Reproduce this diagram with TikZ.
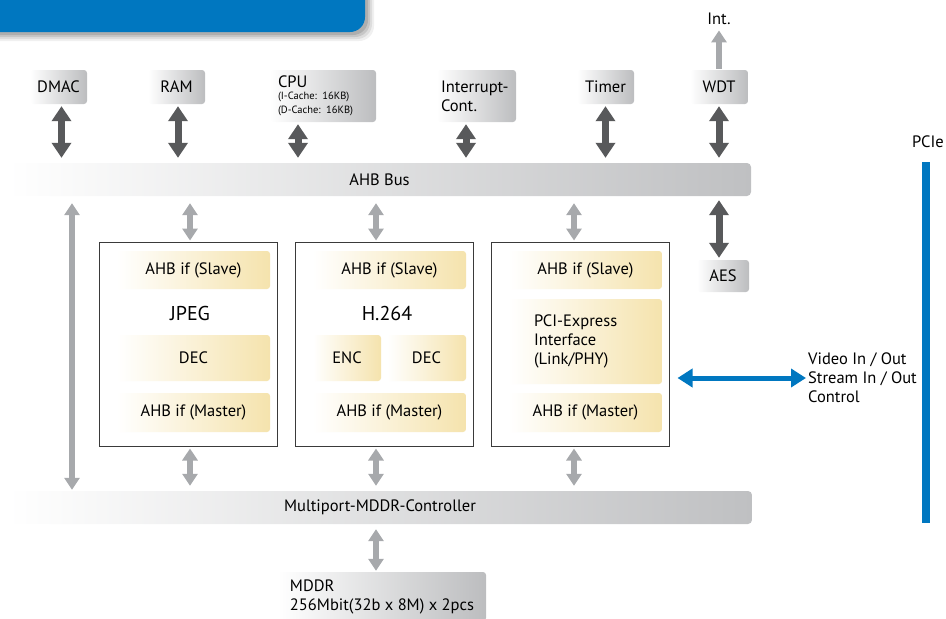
\documentclass[tikz,border=0pt]{standalone}
\usepackage{fontspec}
\setmainfont{PT Sans}
\usetikzlibrary{arrows.meta}

\definecolor{banblue}{HTML}{0077C0}
\definecolor{perigray}{HTML}{BCBDBF}
\definecolor{busgray}{HTML}{BFC0C2}
\definecolor{darkarr}{HTML}{58595B}
\definecolor{lightarr}{HTML}{A7A9AC}
\definecolor{frame}{HTML}{3A3A3A}
\definecolor{ifyellow}{HTML}{F5E3AD}

\newcommand{\fs}[1]{\fontsize{#1}{19}\selectfont}

\tikzset{
  periph/.style={left color=white,right color=perigray,rounded corners=3pt,
    inner sep=0pt,font=\fs{16.5},text=black},
  busbar/.style={left color=white,right color=busgray,rounded corners=4pt,
    inner sep=0pt,minimum height=33pt,font=\fs{16.5}},
  module/.style={draw=frame,line width=1pt,fill=white,inner sep=0pt},
  ifbox/.style={left color=white,right color=ifyellow,rounded corners=3pt,
    inner sep=0pt,font=\fs{16.5}},
  darrow/.style={draw=darkarr,line width=7pt,
    {Triangle[width=19pt,length=15pt]}-{Triangle[width=19pt,length=15pt]}},
  larrow/.style={draw=lightarr,line width=5.5pt,
    {Triangle[width=15pt,length=12pt]}-{Triangle[width=15pt,length=12pt]}},
  lsingle/.style={draw=lightarr,line width=5.5pt,-{Triangle[width=15pt,length=12pt]}},
  barrow/.style={draw=banblue,line width=5pt,
    {Triangle[width=18pt,length=15pt]}-{Triangle[width=18pt,length=15pt]}}
}

\begin{document}
\frenchspacing
\begin{tikzpicture}[x=1pt,y=-1pt]

	\useasboundingbox (0,0) rectangle (946,619);

	\begin{scope}
		\clip (0,0) rectangle (946,619);
		% banner with a soft shadow
		\foreach \s/\o in {9/.06,7/.08,5/.1,3/.12}
			\fill[black,opacity=\o,rounded corners=15pt] (-20,-20) rectangle (365+\s,32+\s);
		\fill[banblue,rounded corners=15pt] (-20,-20) rectangle (365,32);

		\node[periph,minimum width=208pt,minimum height=49pt,
		      align=left] (mddr) at (382,596.5) {MDDR\\256Mbit(32b x 8M) x 2pcs};
	\end{scope}

		% peripherals on the AHB bus
		\node[periph,minimum width=57pt,minimum height=34pt] (dmac)  at ( 58.5, 87) {DMAC};
		\node[periph,minimum width=57pt,minimum height=34pt] (ram)   at (176.5, 87) {RAM};
		\node[periph,minimum height=52pt,text width=90pt,inner xsep=8pt,align=left] (cpu) at (323, 96)
		     {CPU\\[-7pt]{\fs{10.5}(I-Cache: 16KB)}\\[-5pt]{\fs{10.5}(D-Cache: 16KB)}};
		\node[periph,minimum height=52pt,text width=71pt,inner xsep=4pt,align=left] (intc) at (476.5, 96)
		     {Interrupt-\\Cont.};
		\node[periph,minimum width=57pt,minimum height=34pt] (timer) at (605.5, 87) {Timer};
		\node[periph,minimum width=58pt,minimum height=34pt] (wdt)   at (719, 87) {WDT};
		\node[font=\fs{16.5}] (intl) at (719, 19) {Int.};
		\node[periph,minimum width=52pt,minimum height=32pt] (aes)   at (723, 276) {AES};

		\node[busbar,minimum width=743pt] (bus) at (379.5, 179.5) {AHB Bus};
		\node[busbar,minimum width=744pt] (mpc) at (380, 507.5) {Multiport-MDDR-Controller};

		% codec / interface blocks
		\node[module,minimum width=178pt,minimum height=204pt] (jpeg) at (188, 344) {};
		\node[module,minimum width=178pt,minimum height=204pt] (h264) at (384, 344) {};
		\node[module,minimum width=178pt,minimum height=204pt] (pcie) at (580, 344) {};

		\node[ifbox,minimum width=153pt,minimum height=38pt] (js) at (193.5, 270) {AHB if (Slave)};
		\node[font=\fs{20}] (jl) at (190, 313) {JPEG};
		\node[ifbox,minimum width=153pt,minimum height=46pt] (jd) at (193.5, 358) {DEC};
		\node[ifbox,minimum width=153pt,minimum height=39pt] (jm) at (193.5, 412.5) {AHB if (Master)};

		\node[ifbox,minimum width=153pt,minimum height=38pt] (hs) at (389.5, 270) {AHB if (Slave)};
		\node[font=\fs{20}] (hl) at (387, 313) {H.264};
		\node[ifbox,minimum width=68pt,minimum height=46pt] (he) at (347, 358) {ENC};
		\node[ifbox,minimum width=79pt,minimum height=46pt] (hd) at (426.5, 358) {DEC};
		\node[ifbox,minimum width=153pt,minimum height=39pt] (hm) at (389.5, 412.5) {AHB if (Master)};

		\node[ifbox,minimum width=153pt,minimum height=38pt] (ps) at (585.5, 270) {AHB if (Slave)};
		\node[ifbox,minimum height=85pt,text width=103pt,inner xsep=25pt,align=left] (pi) at (585.5, 341.5)
		     {PCI-Express\\Interface\\(Link/PHY)};
		\node[ifbox,minimum width=153pt,minimum height=39pt] (pm) at (585.5, 412.5) {AHB if (Master)};

		\node[font=\fs{16.5},align=left,anchor=west,inner sep=2pt] (vio) at (806, 378)
		     {Video In / Out\\Stream In / Out\\Control};
		\node[font=\fs{16.5}] (pcil) at (928, 142) {PCIe};
		\fill[banblue] (922,162) rectangle (930,523);

		\coordinate (lft) at (72, 0);

		\draw[darrow,shorten <=2pt,shorten >=5pt] ([xshift=3pt]dmac.south) -- ([xshift=3pt]dmac.south |- bus.north);
		\draw[darrow,shorten <=2pt,shorten >=5pt] ([xshift=1.5pt]ram.south) -- ([xshift=1.5pt]ram.south |- bus.north);
		\draw[darrow,shorten <=2pt,shorten >=5pt] ([xshift=-25pt]cpu.south) -- ([xshift=-25pt]cpu.south |- bus.north);
		\draw[darrow,shorten <=2pt,shorten >=5pt] ([xshift=-10.5pt]intc.south) -- ([xshift=-10.5pt]intc.south |- bus.north);
		\draw[darrow,shorten <=2pt,shorten >=5pt] (timer.south) -- (timer.south |- bus.north);
		\draw[darrow,shorten <=2pt,shorten >=5pt] (wdt.south) -- (wdt.south |- bus.north);
		\draw[darrow,shorten <=4pt,shorten >=2pt] (wdt |- bus.south) -- (wdt |- aes.north);
		\draw[lsingle,shorten <=1pt,shorten >=2pt] (wdt.north) -- (intl.south);

		\draw[larrow,shorten <=7pt,shorten >=1pt] (lft |- bus.south) -- (lft |- mpc.north);
		\draw[larrow,shorten <=7pt,shorten >=1pt] ([xshift=2pt]jpeg.north |- bus.south) -- ([xshift=2pt]jpeg.north);
		\draw[larrow,shorten <=7pt,shorten >=1pt] ([xshift=-8pt]h264.north |- bus.south) -- ([xshift=-8pt]h264.north);
		\draw[larrow,shorten <=7pt,shorten >=1pt] ([xshift=-6pt]pcie.north |- bus.south) -- ([xshift=-6pt]pcie.north);
		\draw[larrow,shorten <=2pt,shorten >=5pt] ([xshift=2pt]jpeg.south) -- ([xshift=2pt]jpeg.south |- mpc.north);
		\draw[larrow,shorten <=2pt,shorten >=5pt] ([xshift=-8pt]h264.south) -- ([xshift=-8pt]h264.south |- mpc.north);
		\draw[larrow,shorten <=2pt,shorten >=5pt] ([xshift=-6pt]pcie.south) -- ([xshift=-6pt]pcie.south |- mpc.north);
		\draw[larrow,shorten <=5pt,shorten >=1pt] ([xshift=-6pt]mddr.north |- mpc.south) -- ([xshift=-6pt]mddr.north);

		\draw[barrow,shorten <=8pt] (pcie.east |- vio.west) -- (vio.west);

	\end{tikzpicture}
\end{document}
